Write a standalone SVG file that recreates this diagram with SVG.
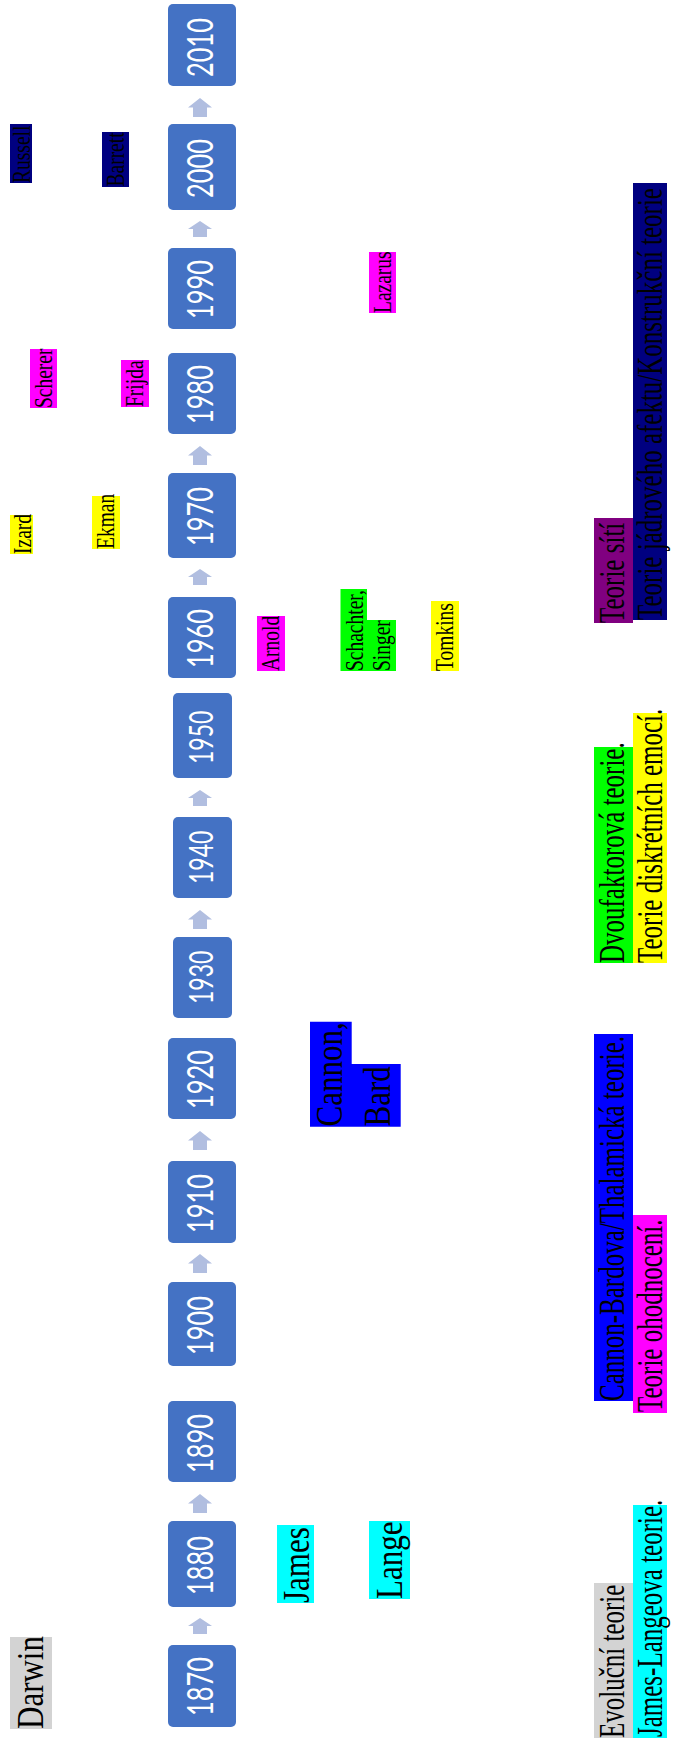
<svg xmlns="http://www.w3.org/2000/svg" width="675" height="1747" viewBox="0 0 675 1747">
<style>
.box{fill:#4472C4;}
.yt{font-family:Lato,"DejaVu Sans",sans-serif;fill:#FFFFFF;font-size:25.4px;}
.yn{font-size:23px;}
.s{font-family:"Liberation Serif","Times New Roman",serif;fill:#000000;font-size:19.5px;}
.b{font-family:"Liberation Serif","Times New Roman",serif;fill:#000000;font-size:31px;}
.c{font-family:"Liberation Serif","Times New Roman",serif;fill:#000000;font-size:25px;}
.arr{fill:#B1BEE0;}
</style>
<rect width="675" height="1747" fill="#FFFFFF"/>
<g id="connectors">
<path class="arr" d="M200 98 L212 107.5 L207 107.5 L207 117 L193 117 L193 107.5 L188 107.5 Z"/>
<path class="arr" d="M200 221 L212 229 L207 229 L207 237 L193 237 L193 229 L188 229 Z"/>
<path class="arr" d="M200 446 L212 455.5 L207 455.5 L207 465 L193 465 L193 455.5 L188 455.5 Z"/>
<path class="arr" d="M200 569 L212 577 L207 577 L207 585 L193 585 L193 577 L188 577 Z"/>
<path class="arr" d="M200 790 L212 798 L207 798 L207 806 L193 806 L193 798 L188 798 Z"/>
<path class="arr" d="M200 910 L212 919.5 L207 919.5 L207 929 L193 929 L193 919.5 L188 919.5 Z"/>
<path class="arr" d="M200 1131 L212 1140.5 L207 1140.5 L207 1150 L193 1150 L193 1140.5 L188 1140.5 Z"/>
<path class="arr" d="M200 1254 L212 1263.5 L207 1263.5 L207 1273 L193 1273 L193 1263.5 L188 1263.5 Z"/>
<path class="arr" d="M200 1494 L212 1503.5 L207 1503.5 L207 1513 L193 1513 L193 1503.5 L188 1503.5 Z"/>
<path class="arr" d="M200 1618 L212 1626 L207 1626 L207 1634 L193 1634 L193 1626 L188 1626 Z"/>
</g>
<g id="y2010"><rect class="box" x="168" y="4" width="68" height="82" rx="5"/><text class="yt" transform="translate(213,77) rotate(-90) scale(1,1.43)">2010</text></g>
<g id="y2000"><rect class="box" x="168" y="124" width="68" height="86" rx="5"/><text class="yt" transform="translate(213,198) rotate(-90) scale(1,1.43)">2000</text></g>
<g id="y1990"><rect class="box" x="168" y="248" width="68" height="81" rx="5"/><text class="yt" transform="translate(213,319) rotate(-90) scale(1,1.43)">1990</text></g>
<g id="y1980"><rect class="box" x="168" y="353" width="68" height="81" rx="5"/><text class="yt" transform="translate(213,424) rotate(-90) scale(1,1.43)">1980</text></g>
<g id="y1970"><rect class="box" x="168" y="473" width="68" height="85" rx="5"/><text class="yt" transform="translate(213,546) rotate(-90) scale(1,1.43)">1970</text></g>
<g id="y1960"><rect class="box" x="168" y="597" width="68" height="81" rx="5"/><text class="yt" transform="translate(213,668) rotate(-90) scale(1,1.43)">1960</text></g>
<g id="y1950"><rect class="box" x="173" y="693" width="59" height="85" rx="5"/><text class="yt yn" transform="translate(213,764) rotate(-90) scale(1,1.42)">1950</text></g>
<g id="y1940"><rect class="box" x="173" y="817" width="59" height="81" rx="5"/><text class="yt yn" transform="translate(213,884) rotate(-90) scale(1,1.42)">1940</text></g>
<g id="y1930"><rect class="box" x="173" y="937" width="59" height="81" rx="5"/><text class="yt yn" transform="translate(213,1004) rotate(-90) scale(1,1.42)">1930</text></g>
<g id="y1920"><rect class="box" x="168" y="1038" width="68" height="81" rx="5"/><text class="yt" transform="translate(213,1109) rotate(-90) scale(1,1.43)">1920</text></g>
<g id="y1910"><rect class="box" x="168" y="1161" width="68" height="82" rx="5"/><text class="yt" transform="translate(213,1233) rotate(-90) scale(1,1.43)">1910</text></g>
<g id="y1900"><rect class="box" x="168" y="1282" width="68" height="84" rx="5"/><text class="yt" transform="translate(213,1355) rotate(-90) scale(1,1.43)">1900</text></g>
<g id="y1890"><rect class="box" x="168" y="1401" width="68" height="81" rx="5"/><text class="yt" transform="translate(213,1473) rotate(-90) scale(1,1.43)">1890</text></g>
<g id="y1880"><rect class="box" x="168" y="1521" width="68" height="86" rx="5"/><text class="yt" transform="translate(213,1595) rotate(-90) scale(1,1.43)">1880</text></g>
<g id="y1870"><rect class="box" x="168" y="1645" width="68" height="82" rx="5"/><text class="yt" transform="translate(213,1716) rotate(-90) scale(1,1.43)">1870</text></g>

<g id="russell"><rect x="10" y="124" width="22" height="59" fill="#000080"/><text class="s" transform="translate(30,183) rotate(-90) scale(1,1.27)">Russell</text></g>
<g id="barrett"><rect x="102" y="132" width="27" height="55" fill="#000080"/><text class="s" transform="translate(124.3,186.5) rotate(-90) scale(1,1.27)">Barrett</text></g>
<g id="lazarus"><rect x="369" y="252" width="27" height="61" fill="#FF00FF"/><text class="s" transform="translate(391,313) rotate(-90) scale(1,1.27)">Lazarus</text></g>
<g id="scherer"><rect x="30" y="349" width="27" height="59" fill="#FF00FF"/><text class="s" transform="translate(52,408) rotate(-90) scale(1,1.27)">Scherer</text></g>
<g id="frijda"><rect x="121" y="360" width="28" height="47" fill="#FF00FF"/><text class="s" transform="translate(143,407) rotate(-90) scale(1,1.27)">Frijda</text></g>
<g id="izard"><rect x="10" y="515" width="23" height="39" fill="#FFFF00"/><text class="s" transform="translate(30.5,554) rotate(-90) scale(1,1.27)">Izard</text></g>
<g id="ekman"><rect x="92" y="496" width="28" height="53" fill="#FFFF00"/><text class="s" transform="translate(114,549) rotate(-90) scale(1,1.27)">Ekman</text></g>
<g id="arnold"><rect x="257" y="616" width="28" height="55" fill="#FF00FF"/><text class="s" transform="translate(279,671) rotate(-90) scale(1,1.27)">Arnold</text></g>
<g id="schachter"><path d="M340.5 589 L367 589 L367 620 L396 620 L396 671 L340.5 671 Z" fill="#00FF00"/><text class="s" transform="translate(362.5,671) rotate(-90) scale(1,1.27)">Schachter,</text><text class="s" transform="translate(390,671) rotate(-90) scale(1,1.27)">Singer</text></g>
<g id="tomkins"><rect x="431" y="601" width="28" height="70" fill="#FFFF00"/><text class="s" transform="translate(453,671) rotate(-90) scale(1,1.27)">Tomkins</text></g>

<g id="darwin"><rect x="10" y="1637" width="42" height="92" fill="#D3D3D3"/><text class="b" transform="translate(43,1729) rotate(-90) scale(1,1.21)">Darwin</text></g>
<g id="james"><rect x="277" y="1525" width="37" height="78" fill="#00FFFF"/><text class="b" transform="translate(308.5,1603) rotate(-90) scale(1,1.21)">James</text></g>
<g id="lange"><rect x="369" y="1521" width="41" height="78" fill="#00FFFF"/><text class="b" transform="translate(401.5,1599) rotate(-90) scale(1,1.21)">Lange</text></g>
<g id="cannon"><path d="M310 1021.7 L351.7 1021.7 L351.7 1064 L400.7 1064 L400.7 1126.7 L310 1126.7 Z" fill="#0000FF"/><text class="b" transform="translate(342,1126.5) rotate(-90) scale(1,1.21)">Cannon,</text><text class="b" transform="translate(390,1126.5) rotate(-90) scale(1,1.21)">Bard</text></g>

<g id="teorie-siti"><rect x="594" y="518" width="39" height="105" fill="#800080"/><text class="c" transform="translate(624,623) rotate(-90) scale(1,1.41)">Teorie sítí</text></g>
<g id="teorie-jadroveho"><rect x="633" y="183" width="34" height="437" fill="#000080"/><text class="c" transform="translate(662,620) rotate(-90) scale(1,1.41)">Teorie jádrového afektu/Konstrukční teorie</text></g>
<g id="dvoufaktorova"><rect x="594" y="747" width="39" height="216" fill="#00FF00"/><text class="c" transform="translate(624,963) rotate(-90) scale(1,1.41)">Dvoufaktorová teorie.</text></g>
<g id="diskretni"><rect x="633" y="713" width="34" height="250" fill="#FFFF00"/><text class="c" transform="translate(662,963) rotate(-90) scale(1,1.41)">Teorie diskrétních emocí.</text></g>
<g id="cannon-bardova"><rect x="594" y="1034" width="39" height="367" fill="#0000FF"/><text class="c" transform="translate(624,1401) rotate(-90) scale(1,1.41)">Cannon-Bardova/Thalamická teorie.</text></g>
<g id="ohodnoceni"><rect x="633" y="1215" width="34" height="198" fill="#FF00FF"/><text class="c" transform="translate(662,1412) rotate(-90) scale(1,1.41)">Teorie ohodnocení.</text></g>
<g id="evolucni"><rect x="594" y="1583" width="39" height="155" fill="#D3D3D3"/><text class="c" transform="translate(624,1738) rotate(-90) scale(1,1.41)">Evoluční teorie</text></g>
<g id="james-lange"><rect x="633" y="1505" width="34" height="233" fill="#00FFFF"/><text class="c" transform="translate(662,1737) rotate(-90) scale(1,1.41)">James-Langeova teorie.</text></g>
</svg>
